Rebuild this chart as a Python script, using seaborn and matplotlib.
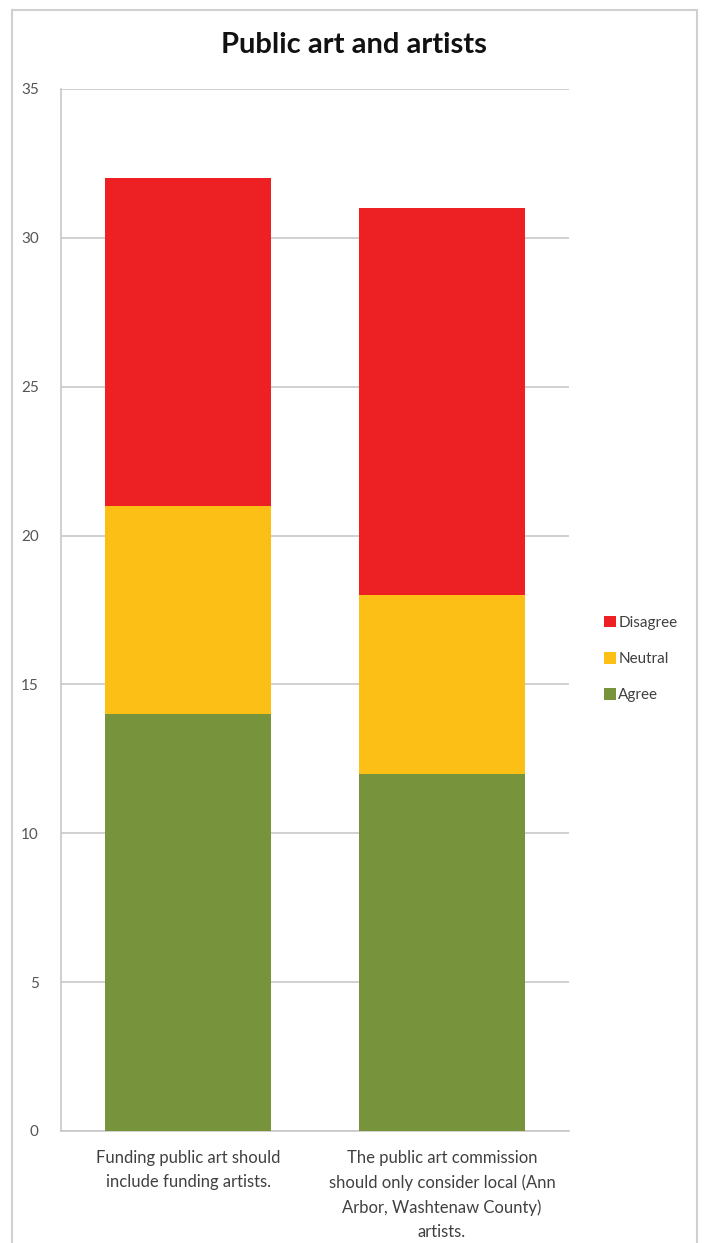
import matplotlib
matplotlib.use("Agg")
import matplotlib.pyplot as plt
from matplotlib.patches import Rectangle, Patch
import seaborn as sns
import pandas as pd
import numpy as np

categories = [
    "Funding public art should\ninclude funding artists.",
    "The public art commission\nshould only consider local (Ann\nArbor, Washtenaw County)\nartists.",
]
agree = [14, 12]
neutral = [7, 6]
disagree = [11, 13]
series_names = ["Disagree", "Neutral", "Agree"]
series_colors = {"Disagree": "#ED2024", "Neutral": "#FBBF16", "Agree": "#77933C"}
y_ticks = [0, 5, 10, 15, 20, 25, 30, 35]

sns.set_theme(style="white")
plt.rcParams["font.family"] = ["Lato", "DejaVu Sans"]

fig = plt.figure(figsize=(7.07, 12.43), dpi=100)

# outer chart frame
fig.patches.append(Rectangle((12 / 707, -0.01), (697 - 12) / 707, (1243 - 10) / 1243 + 0.01,
                             transform=fig.transFigure, fill=False,
                             edgecolor="#D0D0D0", linewidth=1.5, zorder=0))

ax = fig.add_axes([61 / 707, (1243 - 1131) / 1243, (569 - 61) / 707, (1131 - 89) / 1243])

df = pd.DataFrame({"category": categories, "Agree": agree,
                   "Neutral": neutral, "Disagree": disagree})
df["cum_agree"] = df["Agree"]
df["cum_neutral"] = df["Agree"] + df["Neutral"]
df["cum_disagree"] = df["cum_neutral"] + df["Disagree"]

# stacked bars: draw the running totals from the top segment down
for col, name in [("cum_disagree", "Disagree"), ("cum_neutral", "Neutral"), ("cum_agree", "Agree")]:
    sns.barplot(data=df, x="category", y=col, color=series_colors[name],
                width=0.65, saturation=1, ax=ax, zorder=3, linewidth=0, errorbar=None)

ax.set_ylim(0, 35)
ax.set_xlim(-0.5, 1.5)
ax.set_yticks(y_ticks)
ax.set_yticklabels([str(t) for t in y_ticks], color="#555555", fontsize=11)
ax.yaxis.grid(True, color="#C8C8C8", linewidth=1.2, zorder=0)
ax.set_axisbelow(True)
ax.tick_params(axis="y", length=0, pad=16)
ax.tick_params(axis="x", length=0, pad=14)
ax.set_xticks([0, 1])
ax.set_xticklabels(categories, fontsize=12, color="#404040", linespacing=1.6)
ax.set_xlabel("")
ax.set_ylabel("")
for side in ["top", "right"]:
    ax.spines[side].set_visible(False)
ax.spines["left"].set_color("#C8C8C8")
ax.spines["left"].set_linewidth(1.2)
ax.spines["bottom"].set_color("#C8C8C8")
ax.spines["bottom"].set_linewidth(1.2)

fig.text(0.5, 1 - 45 / 1243, "Public art and artists", ha="center", va="center",
         fontsize=21, fontweight="bold", color="#111111")

handles = [Patch(facecolor=series_colors[n], edgecolor="none") for n in series_names]
fig.legend(handles, series_names, loc="center left",
           bbox_to_anchor=(590 / 707, 1 - 659 / 1243), frameon=False,
           fontsize=11, handlelength=0.8, handleheight=0.8, handletextpad=0.15,
           labelspacing=1.45, labelcolor="#404040")

fig.savefig("out.png", dpi=100, facecolor="white")
